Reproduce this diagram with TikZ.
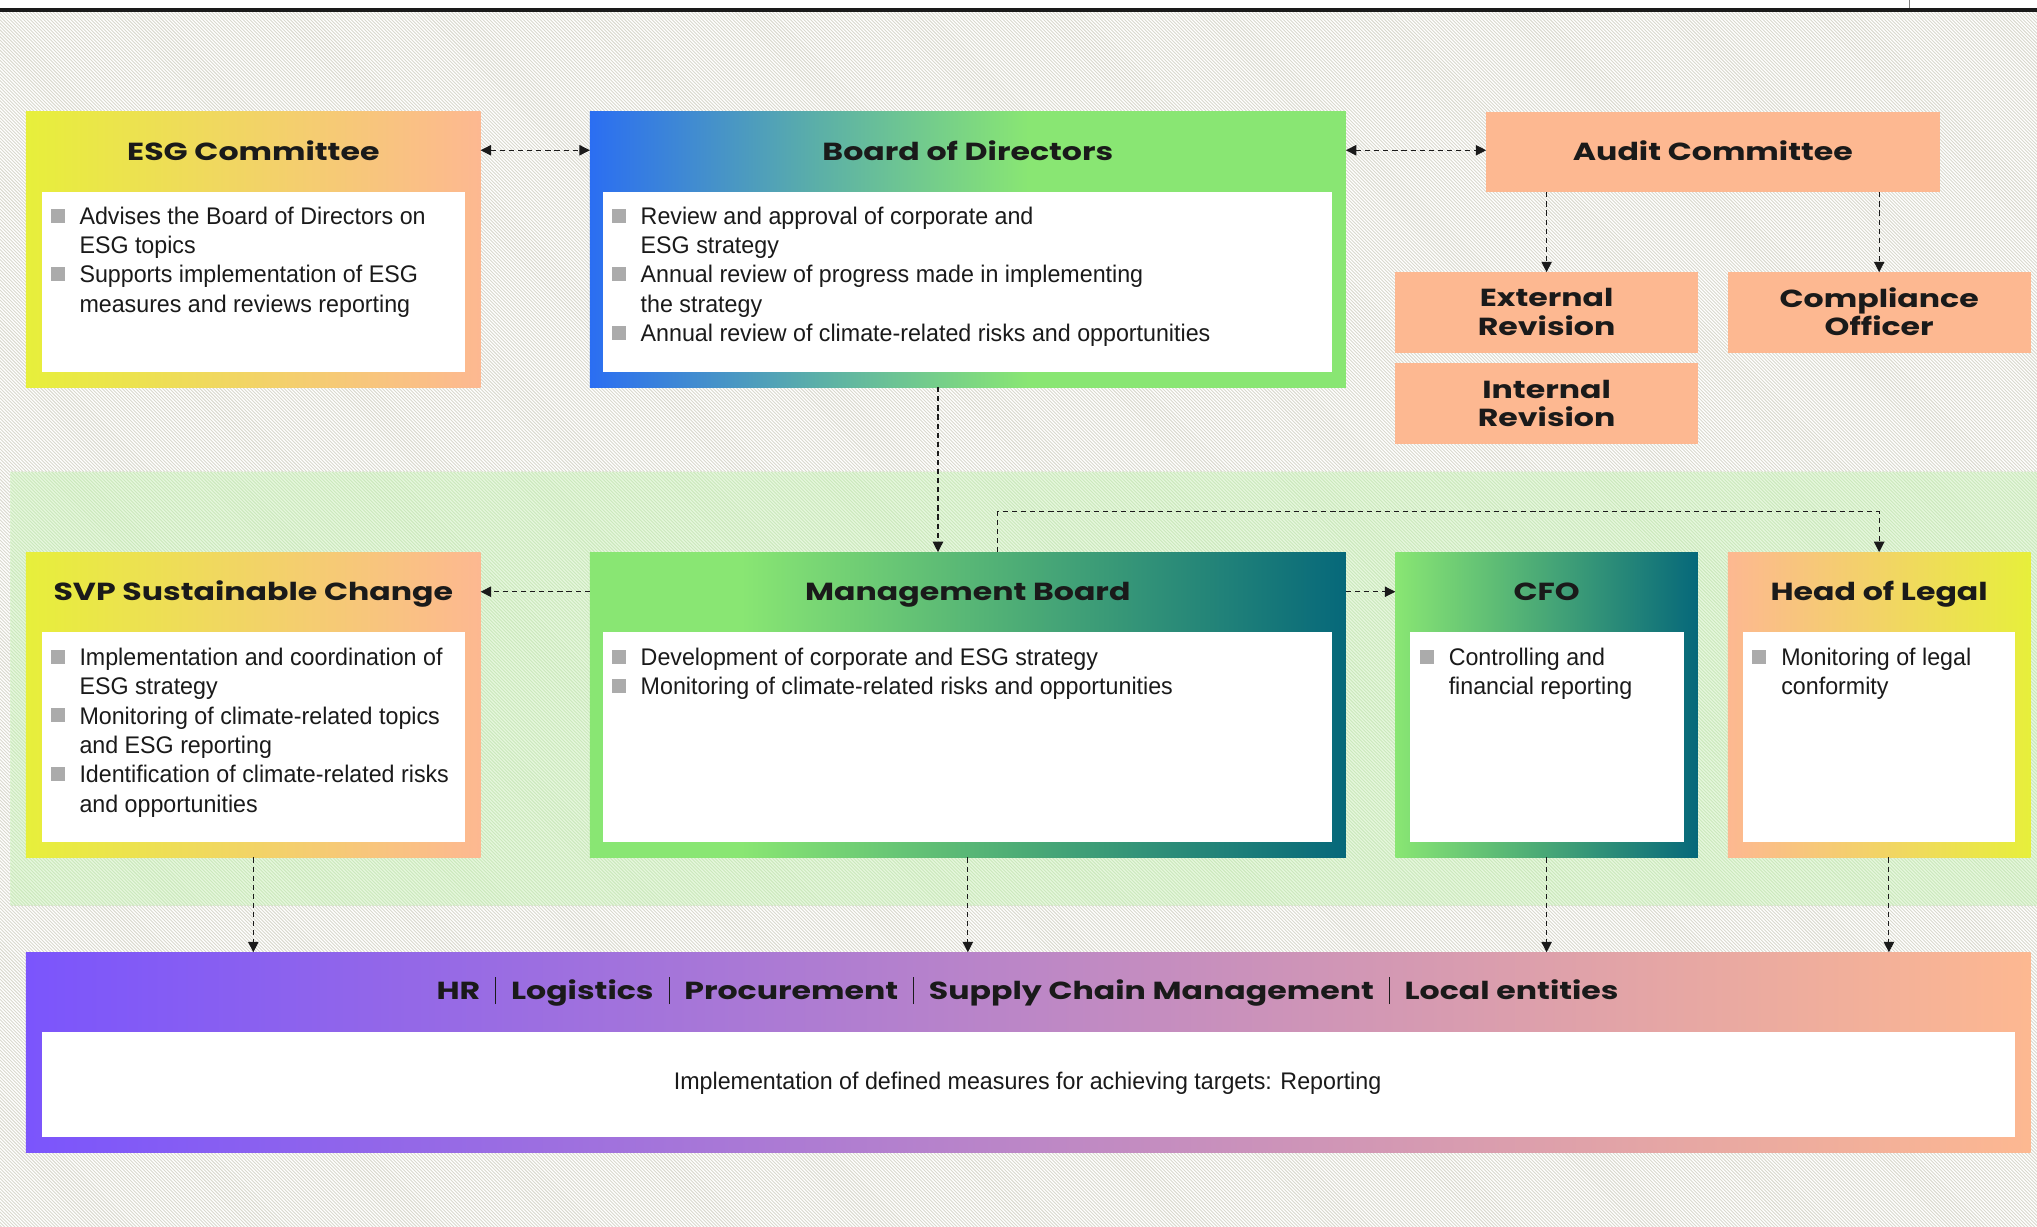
\documentclass[tikz,border=0pt]{standalone}
\usepackage{fontspec}
\setmainfont{Liberation Sans}
\newfontfamily\bodyfont{Liberation Sans}[FakeStretch=0.967]
\newfontfamily\headfont{Poppins}[FakeStretch=1.28]
\usetikzlibrary{arrows.meta,calc}

\definecolor{peach}{HTML}{FDB891}
\definecolor{lime}{HTML}{E7EF3B}
\definecolor{bblue}{HTML}{2B6EF2}
\definecolor{bteal}{HTML}{5BAFA8}
\definecolor{lgreen}{HTML}{89E673}
\definecolor{dteal}{HTML}{06687A}
\definecolor{purp}{HTML}{7B55FC}
\definecolor{bulgrey}{HTML}{ABABAB}
\definecolor{bandgreen}{HTML}{E6F7DD}
\definecolor{bandline}{HTML}{CBE8BC}
\definecolor{hatchcol}{HTML}{DAD9CE}
\definecolor{ink}{HTML}{1A1A1A}

\pgfdeclarehorizontalshading{bodsh}{100bp}{color(0bp)=(bblue); color(25bp)=(bblue); color(40bp)=(bteal); color(54bp)=(lgreen); color(100bp)=(lgreen)}
\pgfdeclarehorizontalshading{mbsh}{100bp}{color(0bp)=(lgreen); color(25bp)=(lgreen); color(35bp)=(lgreen); color(75bp)=(dteal); color(100bp)=(dteal)}
\pgfdeclarehorizontalshading{cfosh}{100bp}{color(0bp)=(lgreen); color(25bp)=(lgreen); color(75bp)=(dteal); color(100bp)=(dteal)}

\newcommand\bsq{\llap{\textcolor{bulgrey}{\rule[1.2pt]{10.8pt}{10.8pt}}\hspace{11.5pt}}}
\newcommand\hsepbar{\hspace{11.5pt}{\color{ink}\rule[-4pt]{0.7pt}{21pt}}\hspace{11.5pt}}

\tikzset{
  boxnode/.style={anchor=north west, inner sep=0pt, outer sep=0pt, draw=none},
  whitebox/.style={anchor=north west, fill=white, inner sep=0pt, outer sep=0pt, draw=none},
  htitle/.style={font=\headfont\bfseries\fontsize{19}{22}\selectfont, text=ink, align=center, inner sep=0pt},
  btext/.style={font=\bodyfont\fontsize{18.5}{22.6}\selectfont, text=ink, align=left, anchor=north west, inner sep=0pt},
  conn/.style={draw=ink, line width=0.85pt, dash pattern=on 4pt off 3pt, -{Triangle[length=8pt,width=8pt]}},
  conn2/.style={draw=ink, line width=0.85pt, dash pattern=on 4pt off 3pt, {Triangle[length=8pt,width=8pt]}-{Triangle[length=8pt,width=8pt]}},
}

\begin{document}
\begin{tikzpicture}[x=1pt,y=-1pt]
\useasboundingbox (0,0) rectangle (1568,944);
% background
\fill[white] (0,0) rectangle (1568,944);
\begin{scope}
  \clip (0,9) rectangle (1568,944);
  \foreach \t in {-950,-947.4,...,1570} \draw[hatchcol, line width=0.7pt] (\t,9) -- ++(940,940);
\end{scope}
% green band
\fill[bandgreen] (8,363) rectangle (1568,697);
\begin{scope}
  \clip (8,363) rectangle (1568,697);
  \foreach \t in {-340,-337.4,...,1570} \draw[bandline, line width=0.7pt] (\t,363) -- ++(340,340);
\end{scope}
% top rule
\draw[ink, line width=3pt] (0,7.5) -- (1568,7.5);
\draw[gray, line width=0.7pt] (1470,0) -- (1470,6.5);

% ---------- top row ----------
\node[boxnode, minimum width=350pt, minimum height=212pt, left color=lime, right color=peach] (esg) at (20,86) {};
\node[whitebox, minimum width=326pt, minimum height=138pt] (esgw) at (32,148) {};
\node[htitle, anchor=base] (esgt) at (195,123.2) {ESG Committee};
\node[btext] (esgx) at (61,159) {\bsq Advises the Board of Directors on\\ESG topics\\\bsq Supports implementation of ESG\\measures and reviews reporting};

\node[boxnode, minimum width=582pt, minimum height=212pt, shading=bodsh] (bod) at (454,86) {};
\node[whitebox, minimum width=561pt, minimum height=138pt] (bodw) at (464,148) {};
\node[htitle, anchor=base] (bodt) at (745,123.2) {Board of Directors};
\node[btext] (bodx) at (493,159) {\bsq Review and approval of corporate and\\ESG strategy\\\bsq Annual review of progress made in implementing\\the strategy\\\bsq Annual review of climate-related risks and opportunities};

\node[boxnode, minimum width=349pt, minimum height=62pt, fill=peach] (audit) at (1144,86) {};
\node[htitle, anchor=base] (auditt) at (1318.5,123.2) {Audit Committee};

\node[boxnode, minimum width=233pt, minimum height=62pt, fill=peach] (ext) at (1074,209.5) {};
\node[htitle] (extt) at (1190.5,240) {External\\Revision};
\node[boxnode, minimum width=233pt, minimum height=62pt, fill=peach] (int) at (1074,279.8) {};
\node[htitle] (intt) at (1190.5,310.5) {Internal\\Revision};
\node[boxnode, minimum width=233pt, minimum height=62pt, fill=peach] (comp) at (1330,209.5) {};
\node[htitle] (compt) at (1446.5,240) {Compliance\\Officer};

% ---------- middle row ----------
\node[boxnode, minimum width=350pt, minimum height=235pt, left color=lime, right color=peach] (svp) at (20,425) {};
\node[whitebox, minimum width=326pt, minimum height=162pt] (svpw) at (32,486.5) {};
\node[htitle, anchor=base] (svpt) at (195,462.4) {SVP Sustainable Change};
\node[btext] (svpx) at (61,498.5) {\bsq Implementation and coordination of\\ESG strategy\\\bsq Monitoring of climate-related topics\\and ESG reporting\\\bsq Identification of climate-related risks\\and opportunities};

\node[boxnode, minimum width=582pt, minimum height=235pt, shading=mbsh] (mb) at (454,425) {};
\node[whitebox, minimum width=561pt, minimum height=162pt] (mbw) at (464,486.5) {};
\node[htitle, anchor=base] (mbt) at (745,462.4) {Management Board};
\node[btext] (mbx) at (493,498.5) {\bsq Development of corporate and ESG strategy\\\bsq Monitoring of climate-related risks and opportunities};

\node[boxnode, minimum width=233pt, minimum height=235pt, shading=cfosh] (cfo) at (1074,425) {};
\node[whitebox, minimum width=211pt, minimum height=162pt] (cfow) at (1085,486.5) {};
\node[htitle, anchor=base] (cfot) at (1190.5,462.4) {CFO};
\node[btext] (cfox) at (1115,498.5) {\bsq Controlling and\\financial reporting};

\node[boxnode, minimum width=233pt, minimum height=235pt, left color=peach, right color=lime] (legal) at (1330,425) {};
\node[whitebox, minimum width=209pt, minimum height=162pt] (legalw) at (1342,486.5) {};
\node[htitle, anchor=base] (legalt) at (1446.5,462.4) {Head of Legal};
\node[btext] (legalx) at (1371,498.5) {\bsq Monitoring of legal\\conformity};

% ---------- bottom ----------
\node[boxnode, minimum width=1543pt, minimum height=154pt, left color=purp, right color=peach] (bot) at (20,733) {};
\node[whitebox, minimum width=1519pt, minimum height=80.5pt] (botw) at (32,794.5) {};
\node[htitle, anchor=base] (bott) at (791,769) {HR\hsepbar Logistics\hsepbar Procurement\hsepbar Supply Chain Management\hsepbar Local entities};
\node[btext, anchor=center] (botx) at (791,834) {Implementation of defined measures for achieving targets: Reporting};

% ---------- connectors ----------
\draw[conn2] (esg.east |- esgt.center) -- (bod.west |- esgt.center);
\draw[conn2] (bod.east |- bodt.center) -- (audit.west |- bodt.center);
\draw[conn] (audit.south -| ext.north) -- (ext.north);
\draw[conn] (audit.south -| comp.north) -- (comp.north);
\draw[conn] ($(bod.south)+(-23,0)$) -- ($(mb.north)+(-23,0)$);
\draw[conn] ($(mb.north)+(23,0)$) -- ++(0,-31) -| (legal.north);
\draw[conn] ($(mb.north west)+(0,30.5)$) -- ($(svp.north east)+(0,30.5)$);
\draw[conn] ($(mb.north east)+(0,30.5)$) -- ($(cfo.north west)+(0,30.5)$);
\draw[conn] (svp.south) -- (svp.south |- bot.north);
\draw[conn] (mb.south) -- (mb.south |- bot.north);
\draw[conn] (cfo.south) -- (cfo.south |- bot.north);
\draw[conn] ($(legal.south)+(7.5,0)$) -- ($(legal.south |- bot.north)+(7.5,0)$);
\end{tikzpicture}
\end{document}
